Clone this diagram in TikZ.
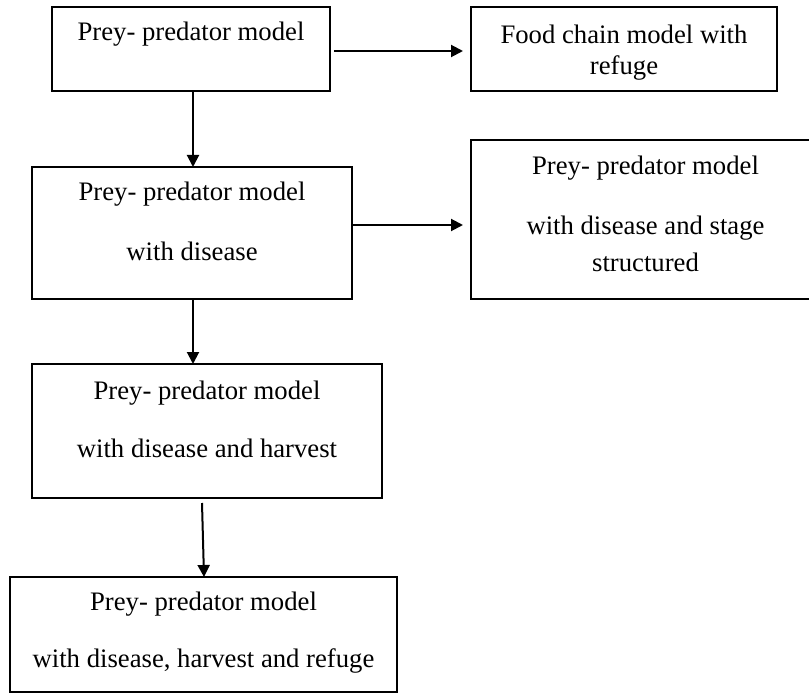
\documentclass[tikz,border=0pt]{standalone}
\usepackage{fontspec}
\setmainfont{Liberation Serif}
\usetikzlibrary{arrows.meta}
\begin{document}
\begin{tikzpicture}[x=1pt,y=-1pt,
  box/.style={draw=black, line width=2.3pt, inner sep=0pt, outer sep=0pt, rectangle},
  txt/.style={inner sep=0pt, font=\fontsize{26.7pt}{32pt}\selectfont, anchor=center},
  arr/.style={draw=black, line width=2pt, -{Triangle[length=12pt,width=12pt]}}]
\useasboundingbox (0,0) rectangle (809,695);
% boxes
\node[box, minimum width=278pt, minimum height=84pt] (A) at (191,49) {};
\node[box, minimum width=306pt, minimum height=84pt] (B) at (624,49) {};
\node[box, minimum width=320pt, minimum height=132pt] (C) at (192,233) {};
\node[box, minimum width=349pt, minimum height=159pt] (D) at (645.5,219.5) {};
\node[box, minimum width=350pt, minimum height=134pt] (E) at (207,431) {};
\node[box, minimum width=387pt, minimum height=115pt] (F) at (203.5,634.5) {};
% texts
\node[txt] (A1) at (191,34) {Prey- predator model};
\node[txt] (B1) at (624,34) {Food chain model with};
\node[txt] (B2) at (624,68) {refuge};
\node[txt] (C1) at (192,194) {Prey- predator model};
\node[txt] (C2) at (192,251) {with disease};
\node[txt] (D1) at (645.5,168) {Prey- predator model};
\node[txt] (D2) at (645.5,228) {with disease and stage};
\node[txt] (D3) at (645.5,262) {structured};
\node[txt] (E1) at (207,393) {Prey- predator model};
\node[txt] (E2) at (207,448) {with disease and harvest};
\node[txt] (F1) at (203.5,604) {Prey- predator model};
\node[txt] (F2) at (203.5,661) {with disease, harvest and refuge};
% connectors
\draw[arr] ([xshift=4pt,yshift=-2pt]A.east) -- ([xshift=-8pt,yshift=-2pt]B.west);
\draw[arr] ([xshift=2pt]A.south) -- ([xshift=1pt]C.north);
\draw[arr] ([yshift=8pt]C.east) -- ([xshift=-8pt,yshift=-5.5pt]D.west);
\draw[arr] ([xshift=1pt]C.south) -- ([xshift=-14pt]E.north);
\draw[arr] ([xshift=-5pt,yshift=-5pt]E.south) -- ([xshift=0.5pt]F.north);
\end{tikzpicture}
\end{document}
